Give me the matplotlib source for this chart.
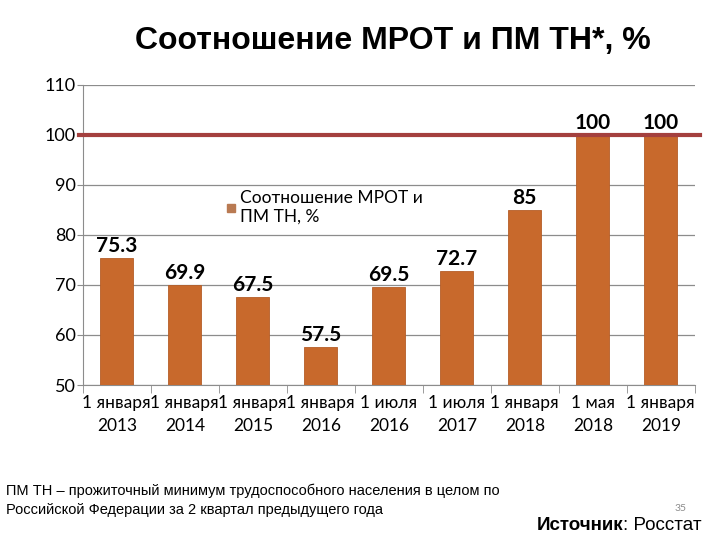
import matplotlib
matplotlib.use("Agg")
import matplotlib.pyplot as plt
from matplotlib.lines import Line2D

categories = ["1 января\n2013", "1 января\n2014", "1 января\n2015", "1 января\n2016",
              "1 июля\n2016", "1 июля\n2017", "1 января\n2018", "1 мая\n2018", "1 января\n2019"]
values = [75.3, 69.9, 67.5, 57.5, 69.5, 72.7, 85, 100, 100]
labels = ["75.3", "69.9", "67.5", "57.5", "69.5", "72.7", "85", "100", "100"]
ref_level = 100
yticks = [50, 60, 70, 80, 90, 100, 110]

fig = plt.figure(figsize=(7.2, 5.4), dpi=100)
ax = fig.add_axes([0.115, 0.287, 0.85, 0.556])

x = list(range(len(categories)))
ax.bar(x, values, width=0.49, color="#C8692C", edgecolor="#B55E28", linewidth=0.6, zorder=3)
ax.set_ylim(50, 110)
ax.set_xlim(-0.5, len(categories) - 0.5)
ax.set_yticks(yticks)
ax.yaxis.grid(True, color="#8c8c8c", linewidth=0.9, zorder=0)
for s in ["top", "right"]:
    ax.spines[s].set_visible(False)
for s in ["left", "bottom"]:
    ax.spines[s].set_color("#8c8c8c")
ax.tick_params(axis="y", length=4, color="#8c8c8c", labelsize=13, pad=1)
ax.set_xticks(x)
ax.set_xticklabels(categories, fontsize=12.5, family=["Lato", "DejaVu Sans"], linespacing=1.55)
ax.tick_params(axis="x", length=0, pad=7)
ax.set_xticks([i + 0.5 for i in range(-1, len(categories))], minor=True)
ax.tick_params(axis="x", which="minor", length=6, color="#8c8c8c")
for lab in ax.get_yticklabels():
    lab.set_family(["Lato", "DejaVu Sans"])

for xi, v, t in zip(x, values, labels):
    ax.annotate(t, (xi, v), xytext=(0, 1.5), textcoords="offset points", ha="center", va="bottom",
                fontsize=15, fontweight="bold", family=["Lato", "DejaVu Sans"], zorder=5)

ax.plot([-0.55, len(categories) - 0.43], [ref_level, ref_level], color="#A4403E",
        linewidth=3, clip_on=False, zorder=4)

handle = Line2D([], [], marker="s", linestyle="none", markersize=6,
                markerfacecolor="#B97A52", markeredgecolor="#B97A52")
leg = ax.legend([handle], ["Соотношение МРОТ и\nПМ ТН, %"], loc="upper left",
                bbox_to_anchor=(0.205, 0.70), frameon=False, handletextpad=0.1,
                prop={"family": ["Lato", "DejaVu Sans"], "size": 12.5}, handlelength=0.8,
                labelspacing=0.2)

fig.text(0.545, 0.925, "Соотношение МРОТ и ПМ ТН*, %", ha="center", va="center",
         fontsize=23, fontweight="bold", family=["Liberation Sans", "DejaVu Sans"])

fig.text(0.008, 0.074, "ПМ ТН – прожиточный минимум трудоспособного населения в целом по\n"
         "Российской Федерации за 2 квартал предыдущего года", ha="left", va="center",
         fontsize=10.5, family=["Liberation Sans Narrow", "Liberation Sans", "DejaVu Sans"],
         linespacing=1.5)
fig.text(0.945, 0.058, "35", ha="center", va="center", fontsize=7.5, color="#8c8c8c",
         family=["Lato", "DejaVu Sans"])
t1 = fig.text(0.745, 0.026, "Источник", ha="left", va="center", fontsize=13.5, fontweight="bold",
              family=["Liberation Sans Narrow", "Liberation Sans", "DejaVu Sans"])
ax.annotate(": Росстат", xy=(1, 0.5), xycoords=t1, ha="left", va="center", fontsize=13.5,
            family=["Liberation Sans Narrow", "Liberation Sans", "DejaVu Sans"],
            annotation_clip=False)

fig.savefig("out.png", dpi=100)
